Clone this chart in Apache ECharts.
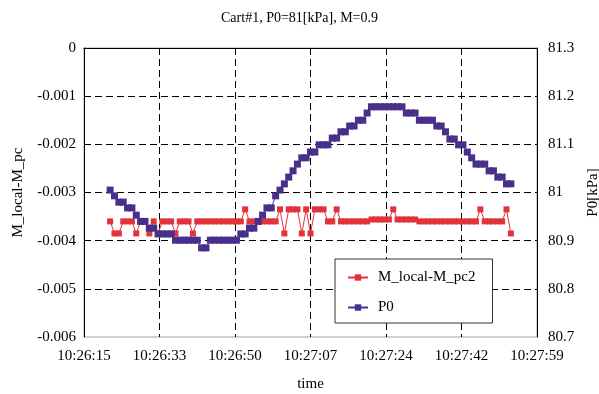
<!DOCTYPE html>
<html>
<head>
<meta charset="utf-8">
<script src="https://cdn.jsdelivr.net/npm/echarts@6/dist/echarts.min.js"></script>
<style>
html, body { margin: 0; padding: 0; background: #fff; }
#main { width: 599px; height: 394px; }
</style>
</head>
<body>
<div id="main"></div>
<script>
// x tick labels (axis runs 10:26:15 .. 10:27:59, 104 s)
var timeLabels = ['10:26:15', '10:26:33', '10:26:50', '10:27:07', '10:27:24', '10:27:42', '10:27:59'];
var spanSec = 104;

// sample times, seconds after 10:26:15
var secs = [
	6, 7, 8, 9, 10, 11, 12, 13, 14, 15,
	16, 17, 18, 19, 20, 21, 22, 23, 24, 25,
	26, 27, 28, 29, 30, 31, 32, 33, 34, 35,
	36, 37, 38, 39, 40, 41, 42, 43, 44, 45,
	46, 47, 48, 49, 50, 51, 52, 53, 54, 55,
	56, 57, 58, 59, 60, 61, 62, 63, 64, 65,
	66, 67, 68, 69, 70, 71, 72, 73, 74, 75,
	76, 77, 78, 79, 80, 81, 82, 83, 84, 85,
	86, 87, 88, 89, 90, 91, 92, 93, 94, 95,
	96, 97, 98
];

// M_local-M_pc2 (left axis)
var dM = [
	-0.0036, -0.00385, -0.00385, -0.0036, -0.0036, -0.0036, -0.00385, -0.0036, -0.0036, -0.00385,
	-0.0036, -0.00385, -0.0036, -0.0036, -0.0036, -0.00385, -0.0036, -0.0036, -0.0036, -0.00385,
	-0.0036, -0.0036, -0.0036, -0.0036, -0.0036, -0.0036, -0.0036, -0.0036, -0.0036, -0.0036,
	-0.0036, -0.00335, -0.0036, -0.0036, -0.0036, -0.0036, -0.0036, -0.0036, -0.0036, -0.00335,
	-0.00385, -0.00335, -0.00335, -0.00335, -0.00385, -0.00335, -0.00385, -0.00335, -0.00335, -0.00335,
	-0.0036, -0.0036, -0.00335, -0.0036, -0.0036, -0.0036, -0.0036, -0.0036, -0.0036, -0.0036,
	-0.00356, -0.00356, -0.00356, -0.00356, -0.00356, -0.00335, -0.00356, -0.00356, -0.00356, -0.00356,
	-0.00356, -0.0036, -0.0036, -0.0036, -0.0036, -0.0036, -0.0036, -0.0036, -0.0036, -0.0036,
	-0.0036, -0.0036, -0.0036, -0.0036, -0.0036, -0.00335, -0.0036, -0.0036, -0.0036, -0.0036,
	-0.0036, -0.00335, -0.00385
];

// P0 [kPa] (right axis)
var p0 = [
	81.005, 80.993, 80.980, 80.980, 80.968, 80.968, 80.953, 80.940, 80.940, 80.926,
	80.926, 80.914, 80.914, 80.914, 80.914, 80.901, 80.901, 80.901, 80.901, 80.901,
	80.901, 80.885, 80.885, 80.901, 80.901, 80.901, 80.901, 80.901, 80.901, 80.901,
	80.914, 80.914, 80.926, 80.926, 80.940, 80.953, 80.968, 80.968, 80.993, 81.005,
	81.018, 81.032, 81.045, 81.059, 81.072, 81.072, 81.084, 81.084, 81.099, 81.099,
	81.099, 81.113, 81.113, 81.126, 81.126, 81.138, 81.138, 81.150, 81.150, 81.165,
	81.178, 81.178, 81.178, 81.178, 81.178, 81.178, 81.178, 81.178, 81.165, 81.165,
	81.165, 81.150, 81.150, 81.150, 81.150, 81.138, 81.138, 81.126, 81.111, 81.111,
	81.099, 81.099, 81.084, 81.072, 81.059, 81.059, 81.059, 81.045, 81.045, 81.032,
	81.032, 81.018, 81.018
];

var red = '#E2323A', purple = '#48308A';
var font = '"Liberation Serif", "Times New Roman", serif';
var dash = { color: '#000', width: 1, type: [7, 4] };

var myChart = echarts.init(document.getElementById('main'));

var pairs = function (vals) {
	return secs.map(function (s, i) { return [s, vals[i]]; });
};

var option = {
	animation: false,
	textStyle: { fontFamily: font, color: '#000' },
	title: {
		text: 'Cart#1, P0=81[kPa], M=0.9',
		left: 'center',
		top: 6,
		padding: [5, 0, 5, 11],
		textStyle: { fontFamily: font, fontSize: 14, fontWeight: 'normal', color: '#000' }
	},
	grid: {
		left: 84, right: 62, top: 48, bottom: 57,
		outerBoundsMode: 'none',
		containLabel: false,
		show: true, borderColor: '#a0a0a0', borderWidth: 1
	},
	legend: {
		orient: 'vertical',
		left: 335,
		top: 259,
		padding: [11, 17, 8, 12],
		itemGap: 15,
		itemWidth: 20,
		itemHeight: 8,
		backgroundColor: '#fff',
		borderColor: '#333',
		borderWidth: 1,
		borderRadius: 0,
		textStyle: { fontFamily: font, fontSize: 15, color: '#000', padding: [0, 0, 0, 5] },
		data: ['M_local-M_pc2', 'P0']
	},
	xAxis: {
		type: 'value',
		min: 0,
		max: spanSec,
		interval: spanSec / 6,
		name: 'time',
		nameLocation: 'middle',
		nameGap: 40,
		nameTextStyle: { fontFamily: font, fontSize: 15, color: '#000' },
		axisLine: { lineStyle: { color: '#000', width: 1 } },
		axisTick: { show: false },
		axisLabel: {
			fontFamily: font, fontSize: 15, color: '#000', margin: 12,
			formatter: function (v) { return timeLabels[Math.round(v / (spanSec / 6))] || ''; }
		},
		splitLine: { show: true, showMinLine: false, showMaxLine: false, lineStyle: dash }
	},
	yAxis: [
		{
			type: 'value',
			min: -0.006,
			max: 0,
			interval: 0.001,
			name: 'M_local-M_pc',
			nameLocation: 'middle',
			nameRotate: 90,
			nameGap: 58,
			nameTextStyle: { fontFamily: font, fontSize: 15, color: '#000' },
			axisLine: { show: true, lineStyle: { color: '#000', width: 1 } },
			axisTick: { show: false },
			axisLabel: { fontFamily: font, fontSize: 15, color: '#000', margin: 8 },
			splitLine: { show: true, showMinLine: false, showMaxLine: false, lineStyle: dash }
		},
		{
			type: 'value',
			position: 'right',
			min: 80.7,
			max: 81.3,
			interval: 0.1,
			name: 'P0[kPa]',
			nameLocation: 'middle',
			nameRotate: 90,
			nameGap: 47,
			nameTextStyle: { fontFamily: font, fontSize: 15, color: '#000' },
			axisLine: { show: true, lineStyle: { color: '#000', width: 1 } },
			axisTick: { show: false },
			axisLabel: { fontFamily: font, fontSize: 15, color: '#000', margin: 11 },
			splitLine: { show: false }
		}
	],
	series: [
		{
			name: 'M_local-M_pc2',
			type: 'line',
			yAxisIndex: 0,
			data: pairs(dM),
			symbol: 'rect',
			symbolSize: 6,
			showAllSymbol: true,
			itemStyle: { color: red },
			lineStyle: { color: red, width: 1 }
		},
		{
			name: 'P0',
			type: 'line',
			yAxisIndex: 1,
			data: pairs(p0),
			symbol: 'rect',
			symbolSize: 7,
			showAllSymbol: true,
			itemStyle: { color: purple },
			lineStyle: { color: purple, width: 1 }
		}
	]
};

myChart.setOption(option);
</script>
</body>
</html>
